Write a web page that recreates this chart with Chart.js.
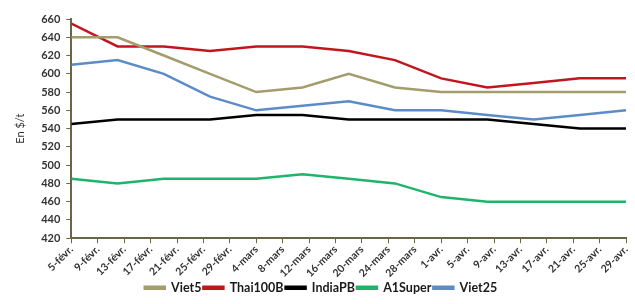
<!DOCTYPE html>
<html>
<head>
<meta charset="utf-8">
<script src="https://cdn.jsdelivr.net/npm/chart.js@4"></script>
<style>
  html, body { margin: 0; padding: 0; background: #fff; }
  #wrap { width: 635px; height: 304px; }
</style>
</head>
<body>
<div id="wrap"><canvas id="prix"></canvas></div>
<script>
/* ---------------- Data ---------------- */
// axis ticks every 4 days starting 5 Feb 2024
const tickLabels = ['5-févr.', '9-févr.', '13-févr.', '17-févr.', '21-févr.', '25-févr.', '29-févr.',
  '4-mars', '8-mars', '12-mars', '16-mars', '20-mars', '24-mars', '28-mars',
  '1-avr.', '5-avr.', '9-avr.', '13-avr.', '17-avr.', '21-avr.', '25-avr.', '29-avr.'];
// weekly quotes, days after 5 Feb
const days = [0, 7, 14, 21, 28, 35, 42, 49, 56, 63, 70, 77, 84];
const viet5    = [640, 640, 620, 600, 580, 585, 600, 585, 580, 580, 580, 580, 580];
const thai100B = [655, 630, 630, 625, 630, 630, 625, 615, 595, 585, 590, 595, 595];
const indiaPB  = [545, 550, 550, 550, 555, 555, 550, 550, 550, 550, 545, 540, 540];
const a1Super  = [485, 480, 485, 485, 485, 490, 485, 480, 465, 460, 460, 460, 460];
const viet25   = [610, 615, 600, 575, 560, 565, 570, 560, 560, 555, 550, 555, 560];

const seriesNames = ['Viet5', 'Thai100B', 'IndiaPB', 'A1Super', 'Viet25'];
const seriesValues = [viet5, thai100B, indiaPB, a1Super, viet25];
const colors = ['#a39c6c', '#c2161e', '#000000', '#1fb46c', '#5b8cc8'];

const axisColor = '#6b6547';
const textFont = 'Lato, "DejaVu Sans", sans-serif';

/* ---------------- Chart ---------------- */
const ctx = document.getElementById('prix').getContext('2d');
new Chart(ctx, {
  type: 'line',
  data: {
    datasets: seriesNames.map((name, i) => ({
      label: name,
      data: days.map((d, j) => ({ x: d, y: seriesValues[i][j] })),
      borderColor: colors[i],
      backgroundColor: colors[i],
      borderWidth: 2.5,
      pointRadius: 0,
      tension: 0
    }))
  },
  options: {
    responsive: true,
    maintainAspectRatio: false,
    animation: false,
    layout: { padding: { top: 19, right: 3, left: 10, bottom: 0 } },
    plugins: {
      tooltip: { enabled: false },
      legend: {
        position: 'bottom',
        labels: {
          boxWidth: 20,
          boxHeight: 2,
          padding: 2,
          color: '#1a1a1a',
          font: { family: textFont, size: 12.5, weight: 'bold' }
        }
      }
    },
    scales: {
      x: {
        type: 'linear',
        min: 0,
        max: 84,
        border: { color: axisColor, width: 2 },
        grid: { drawOnChartArea: false, color: axisColor, tickLength: 5 },
        ticks: {
          stepSize: 4,
          autoSkip: false,
          minRotation: 45,
          maxRotation: 45,
          color: '#333',
          padding: 0,
          font: { family: textFont, size: 10.5, weight: 'bold' },
          callback: (v) => tickLabels[v / 4]
        }
      },
      y: {
        min: 420,
        max: 660,
        border: { color: axisColor, width: 2 },
        grid: { drawOnChartArea: false, color: axisColor, tickLength: 5 },
        ticks: {
          stepSize: 20,
          color: '#333',
          padding: 6,
          font: { family: textFont, size: 11, weight: 'bold' }
        },
        title: {
          display: true,
          text: 'En $/t',
          color: '#333',
          padding: { bottom: 8 },
          font: { family: textFont, size: 11 }
        }
      }
    }
  }
});
</script>
</body>
</html>
